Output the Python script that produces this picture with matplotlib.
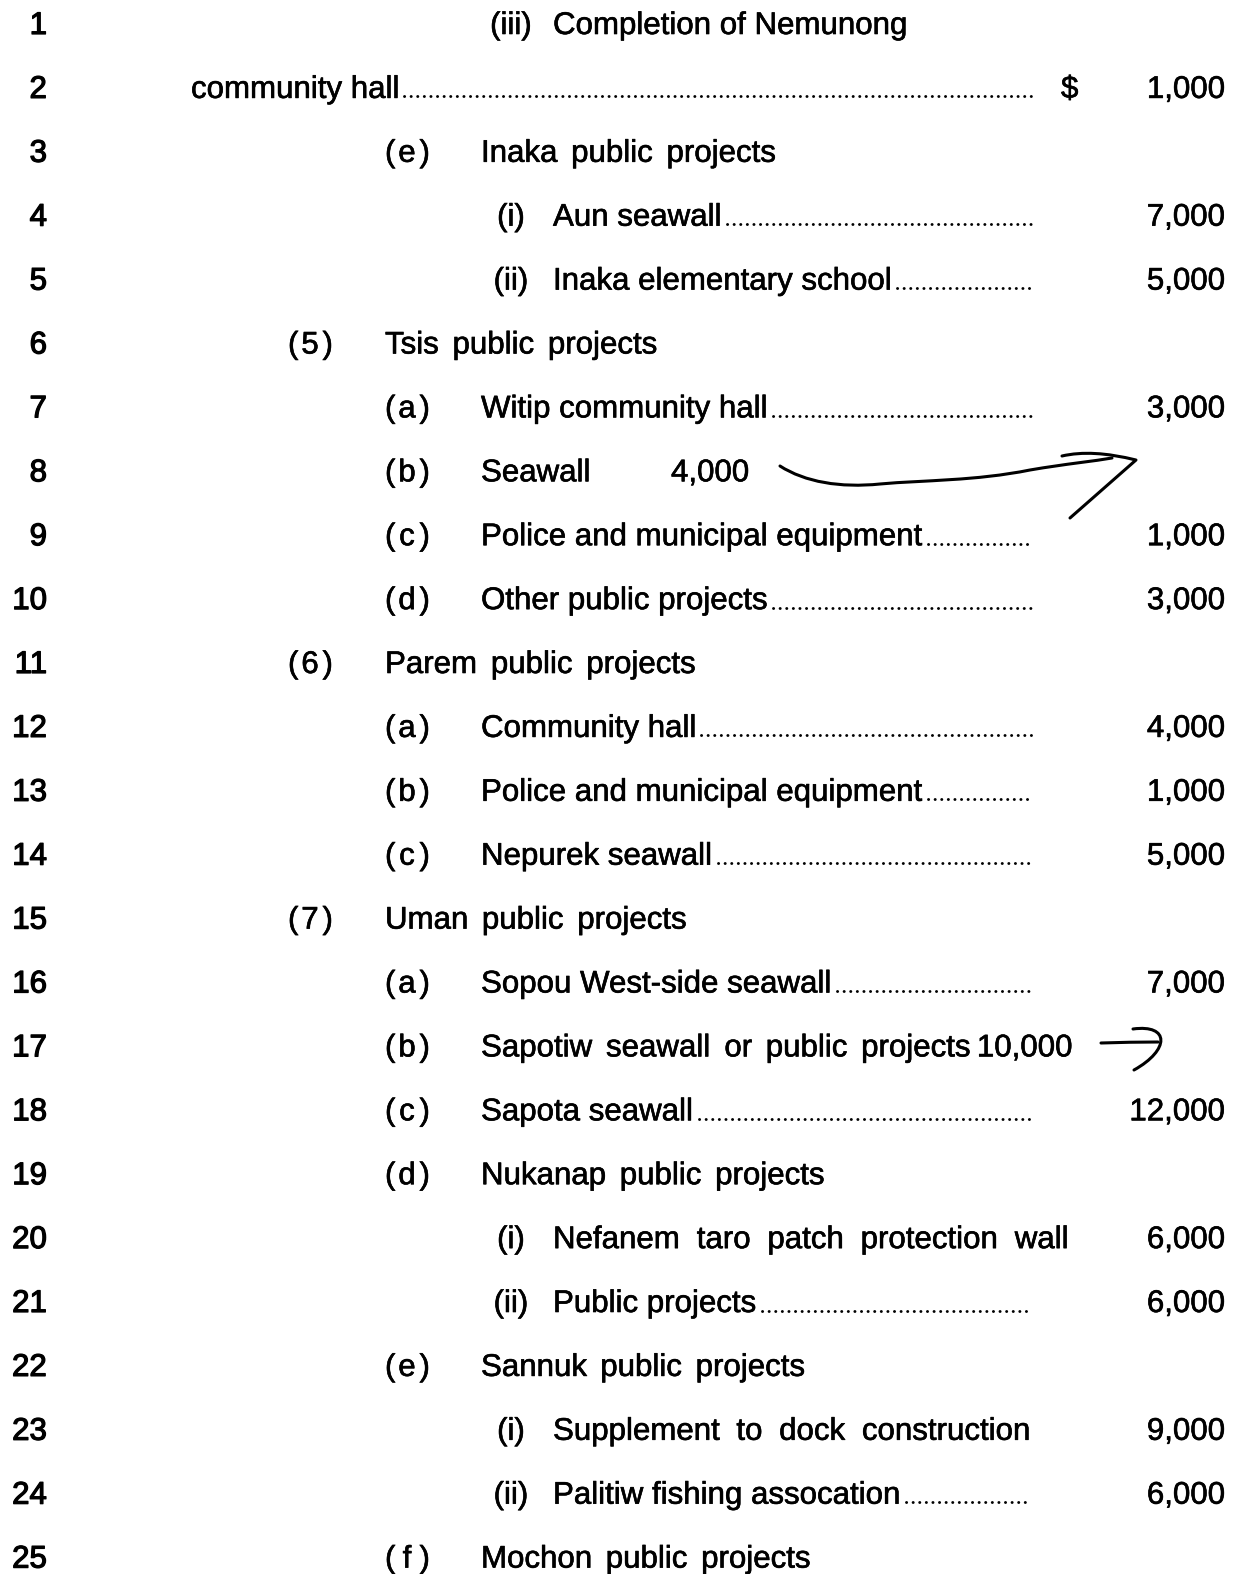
import matplotlib
matplotlib.use('Agg')
import matplotlib.pyplot as plt
import matplotlib.patheffects as pe
from matplotlib.path import Path
from matplotlib.patches import PathPatch

plt.rcParams['font.family'] = ['Liberation Sans', 'DejaVu Sans']
plt.rcParams['lines.scale_dashes'] = False

# page content, one entry per numbered line
line_numbers = list(range(1, 26))
depths = [3, 0, 2, 3, 3, 1, 2, 2, 2, 2, 1, 2, 2, 2, 1, 2, 2, 2, 2, 3, 3, 2, 3, 3, 2]
markers = ['(iii)', '', '(e)', '(i)', '(ii)', '(5)', '(a)', '(b)', '(c)', '(d)',
           '(6)', '(a)', '(b)', '(c)', '(7)', '(a)', '(b)', '(c)', '(d)', '(i)',
           '(ii)', '(e)', '(i)', '(ii)', '(f)']
labels = ['Completion of Nemunong', 'community hall', 'Inaka public projects',
          'Aun seawall', 'Inaka elementary school', 'Tsis public projects',
          'Witip community hall', 'Seawall', 'Police and municipal equipment',
          'Other public projects', 'Parem public projects', 'Community hall',
          'Police and municipal equipment', 'Nepurek seawall', 'Uman public projects',
          'Sopou West-side seawall', 'Sapotiw seawall or public projects',
          'Sapota seawall', 'Nukanap public projects',
          'Nefanem taro patch protection wall', 'Public projects',
          'Sannuk public projects', 'Supplement to dock construction',
          'Palitiw fishing assocation', 'Mochon public projects']
amounts = [None, '1,000', None, '7,000', '5,000', None, '3,000', None, '1,000', '3,000',
           None, '4,000', '1,000', '5,000', None, '7,000', None, '12,000', None, '6,000',
           '6,000', None, '9,000', '6,000', None]
inline_amounts = [None, None, None, None, None, None, None, '4,000', None, None,
                  None, None, None, None, None, None, '10,000', None, None, None,
                  None, None, None, None, None]
leaders = [False, True, False, True, True, False, True, False, True, True,
           False, True, True, True, False, True, False, True, False, False,
           True, False, False, True, False]
dollar_rows = [2]

W, H = 1233, 1574
fig = plt.figure(figsize=(W / 100, H / 100), dpi=100)
ax = fig.add_axes([0, 0, 1, 1])
ax.set_xlim(0, W)
ax.set_ylim(H, 0)
ax.axis('off')

fs = 22.5
first_base, pitch = 34, 63.9
text_x = {0: 191, 1: 385, 2: 481, 3: 553}
marker_x = {1: 288, 2: 385}
leader_end = 1031
amount_right = 1225
ink = [pe.withStroke(linewidth=0.45, foreground='black')]
ink_num = [pe.withStroke(linewidth=0.9, foreground='black')]

renderer = fig.canvas.get_renderer()
inv = ax.transData.inverted()


def right_edge(t):
    bb = t.get_window_extent(renderer)
    return inv.transform((bb.x1, bb.y0))[0]


def put(x, y, s, ha='left', effects=ink):
    return ax.text(x, y, s, fontsize=fs, ha=ha, va='baseline', path_effects=effects)


# width of one space, measured then thrown away
_a, _b = put(0, 200, 'a b'), put(0, 200, 'ab')
space = right_edge(_a) - right_edge(_b)
_a.remove()
_b.remove()


def put_words(x, y, s, extra):
    # typewriter-style loose word spacing
    if extra == 0:
        return right_edge(put(x, y, s))
    for w in s.split(' '):
        x = right_edge(put(x, y, w)) + space + extra
    return x - space - extra


for i, n in enumerate(line_numbers):
    y = first_base + i * pitch
    put(47, y, str(n), ha='right', effects=ink_num)

    d = depths[i]
    if markers[i]:
        m = markers[i]
        if d == 3:
            put(511, y, m, ha='center')
        else:
            # loosely spaced "( a )" style
            put(marker_x[d], y, m[0])
            put(marker_x[d] + 22, y, m[1:-1], ha='center')
            put(marker_x[d] + 45, y, m[-1], ha='right')

    if leaders[i] or d == 0 or i == 0:
        extra = 0
    elif amounts[i]:
        extra = 8
    else:
        extra = 5
    x_end = put_words(text_x[d], y, labels[i], extra)

    if leaders[i]:
        ax.plot([x_end + 5, leader_end], [y - 1.5, y - 1.5], color='black', lw=2.1,
                linestyle=(0, (0.1, 4.65)), dash_capstyle='round')

    if inline_amounts[i]:
        if n == 8:
            put(671, y, inline_amounts[i])
        else:
            put(x_end + 6, y, inline_amounts[i])

    if n in dollar_rows:
        put(1061, y, '$')
    if amounts[i]:
        put(amount_right, y, amounts[i], ha='right')

# handwritten arrows (pen marks on the scanned page)
pen = dict(facecolor='none', edgecolor='black', lw=2.2, capstyle='round', joinstyle='round')
wave = Path([(780, 466), (805, 482), (840, 488), (880, 484),
             (925, 480), (975, 481), (1030, 470),
             (1065, 464), (1095, 461), (1112, 458)],
            [Path.MOVETO, Path.CURVE4, Path.CURVE4, Path.CURVE4,
             Path.CURVE4, Path.CURVE4, Path.CURVE4,
             Path.CURVE4, Path.CURVE4, Path.CURVE4])
ax.add_patch(PathPatch(wave, **pen))
head = Path([(1062, 456), (1092, 449), (1136, 460), (1070, 518)],
            [Path.MOVETO, Path.CURVE3, Path.CURVE3, Path.LINETO])
ax.add_patch(PathPatch(head, **pen))

dash = Path([(1101, 1043), (1130, 1042), (1158, 1042)],
            [Path.MOVETO, Path.CURVE3, Path.CURVE3])
ax.add_patch(PathPatch(dash, **pen))
hook = Path([(1133, 1029), (1170, 1024), (1170, 1050), (1134, 1070)],
            [Path.MOVETO, Path.CURVE4, Path.CURVE4, Path.CURVE4])
ax.add_patch(PathPatch(hook, **pen))

fig.savefig('out.png', dpi=100)
